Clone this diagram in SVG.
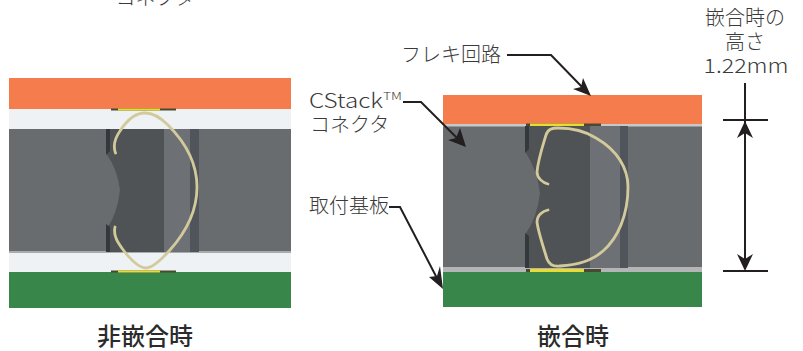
<svg xmlns="http://www.w3.org/2000/svg" width="803" height="351" viewBox="0 0 803 351">
<style>
text{font-family:"Noto Sans CJK JP","Noto Sans",sans-serif;fill:#3a3a3a;font-size:20px;font-weight:300}
.cap{font-size:24px;font-weight:500;fill:#2b2b2b}
.m{text-anchor:middle}
.or{fill:#f47c4e}.gr{fill:#38864a}.wh{fill:#eef2f4}.ho{fill:#686c6e}.dk{fill:#505354}.st{fill:#50555a}.mid{fill:#6d7174}.edge{fill:#33373a}
.pad{fill:#e8dc30}.padk{fill:#4a4a30}
.sp{fill:none;stroke:#d3ca9c;stroke-width:2.800;stroke-linecap:round;stroke-linejoin:round}
.ln{fill:none;stroke:#231f20;stroke-width:2}
.ah{fill:#231f20}
.bl{filter:url(#soft)}
</style>
<defs>
<filter id="soft" x="-2%" y="-2%" width="104%" height="104%"><feGaussianBlur stdDeviation="0.7"/></filter>
<clipPath id="cl"><rect x="9" y="78" width="282" height="230"/></clipPath>
<clipPath id="cr"><rect x="443" y="95" width="259" height="212"/></clipPath>
</defs>

<g id="unmated" clip-path="url(#cl)">
<g class="bl">
<rect class="wh" x="0" y="109" width="300" height="163"/>
<rect class="ho" x="0" y="129" width="300" height="123"/>
<rect x="0" y="251" width="300" height="2" fill="#a9abad"/>
<path class="dk" d="M107 129H164V252H107V228Q117 215 120 190Q117 168 107 155Z"/>
<rect class="mid" x="164" y="129" width="26" height="123"/>
<rect class="st" x="190" y="129" width="9" height="123"/>
<path class="edge" d="M106 129h4v22l-4 4zM106 252h4v-25l-4 -3z"/>
<rect class="or" x="0" y="70" width="300" height="39"/>
<rect class="gr" x="0" y="272" width="300" height="44"/>
<rect class="padk" x="111" y="108.500" width="65" height="2"/>
<rect class="pad" x="118" y="108.500" width="42" height="2"/>
<rect class="padk" x="111" y="270.500" width="65" height="2"/>
<rect class="pad" x="118" y="270.500" width="42" height="2"/>
<path class="sp" d="M115.500 153C113 146 115 138 120 131C127 120 136 113 145 113C153 113 160 117 168 125C186 143 197 164 197 187C197 212 186 232 170 250C161 260 152 268 146 268C139 268 131 260 124 251C118 243 113 236 115 227"/>
</g>
</g>

<g id="mated" clip-path="url(#cr)">
<g class="bl">
<rect class="ho" x="430" y="125" width="285" height="147"/>
<rect x="430" y="124" width="285" height="2.500" fill="#c6c8ca"/>
<rect x="430" y="267" width="285" height="5" fill="#b3b5b7"/>
<path class="dk" d="M526 126H590V268H526V233Q537 218 540 193Q537 170 526 153Z"/>
<rect class="mid" x="590" y="126" width="30" height="142"/>
<rect class="st" x="620" y="126" width="8" height="142"/>
<path class="edge" d="M525 126h4v23l-4 4zM525 268h4v-32l-4 -3z"/>
<rect class="or" x="430" y="88" width="285" height="36"/>
<rect class="gr" x="430" y="272" width="285" height="42"/>
<rect class="padk" x="526" y="123.500" width="75" height="2.500"/>
<rect class="pad" x="530" y="123.500" width="54" height="2.500"/>
<rect class="padk" x="526" y="269" width="75" height="3"/>
<rect class="pad" x="530" y="269" width="54" height="3"/>
<path class="sp" d="M548 184C543 183 537 178 537 172C538 160 543 145 546 135C548 129 552 128 558 128C572 128 585 131 596 138C617 150 628 168 628 187C628 215 618 238 603 251C592 261 577 265 560 266C553 267 549 264 547 259C543 246 538 231 537 222C537 215 543 211 548 210"/>
</g>
</g>

<g id="connectors">
<path class="ln" d="M507 55H551L584 89"/>
<polygon class="ah" points="591,96 573,89 581,87 583,78"/>
<path class="ln" d="M403 102H421L460 141"/>
<polygon class="ah" points="466,147 448,140 456,138 460,128"/>
<path class="ln" d="M389 207H400L439 282"/>
<polygon class="ah" points="443,289 429,277 437,276 440,266"/>
<path class="ln" d="M745 83V262"/>
<path class="ln" d="M723 120H768M723 271H768"/>
<polygon class="ah" points="745,121 753,138 745,133 737,138"/>
<polygon class="ah" points="745,271 737,254 745,259 753,254"/>
</g>

<g id="label-top"><text x="155" y="5" class="m">コネクタ</text></g>
<g id="label-flex"><text x="401" y="62">フレキ回路</text></g>
<g id="label-cstack"><text x="309" y="108" textLength="74" lengthAdjust="spacingAndGlyphs">CStack</text><text x="383" y="100" style="font-size:10px" textLength="19" lengthAdjust="spacingAndGlyphs">TM</text><text x="310" y="132">コネクタ</text></g>
<g id="label-board"><text x="309" y="213">取付基板</text></g>
<g id="label-height">
<text x="745" y="25" class="m">嵌合時の</text>
<text x="745" y="49" class="m">高さ</text>
<text x="746" y="73" class="m" textLength="85" lengthAdjust="spacingAndGlyphs">1.22mm</text>
</g>
<g id="caption-unmated"><text x="145" y="345" class="cap m">非嵌合時</text></g>
<g id="caption-mated"><text x="573" y="345" class="cap m">嵌合時</text></g>
</svg>
